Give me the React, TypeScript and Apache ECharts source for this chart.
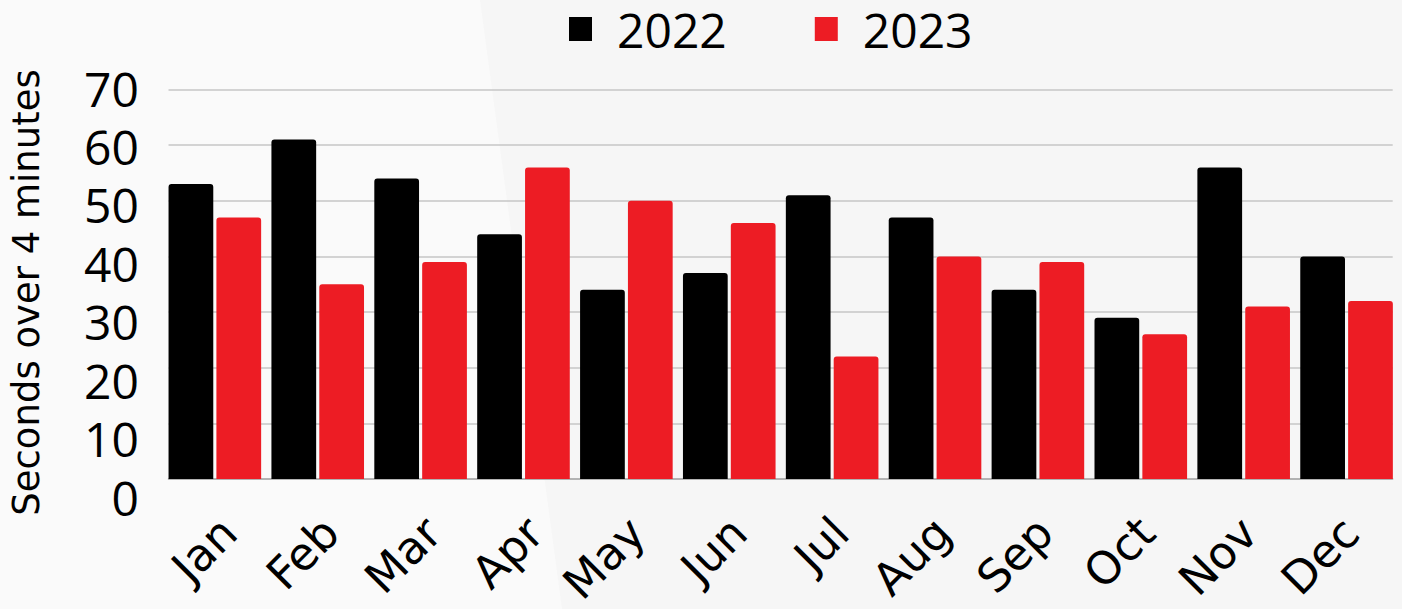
import React, { useEffect, useRef } from "react";
import * as echarts from "echarts";

const categories = ["Jan", "Feb", "Mar", "Apr", "May", "Jun", "Jul", "Aug", "Sep", "Oct", "Nov", "Dec"];
const series2022 = [53, 61, 54, 44, 34, 37, 51, 47, 34, 29, 56, 40];
const series2023 = [47, 35, 39, 56, 50, 46, 22, 40, 39, 26, 31, 32];
const seriesNames = ["2022", "2023"];
const yMin = 0;
const yMax = 70;
const yInterval = 10;
const yAxisTitle = "Seconds over 4 minutes";

const NUM_FONT = "'Open Sans', sans-serif";
const WORD_FONT = "'DejaVu Sans', sans-serif";

export default function App() {
  const ref = useRef<HTMLDivElement>(null);

  useEffect(() => {
    document.body.style.margin = "0";
    if (!ref.current) return;
    const chart = echarts.init(ref.current, undefined, { renderer: "svg" });
    const plotTop = 89.5;
    const plotH = 389.5;
    const option: any = {
      animation: false,
      backgroundColor: "#f6f6f6",
      graphic: [
        {
          type: "polygon",
          z: -10,
          silent: true,
          shape: { points: [[0, 0], [480, 0], [562, 609], [0, 609]] },
          style: { fill: "#fafafa" },
        },
      ],
      legend: {
        data: seriesNames,
        left: 569,
        top: 5,
        padding: 0,
        itemWidth: 23,
        itemHeight: 24,
        itemGap: 88,
        icon: "rect",
        textStyle: {
          fontFamily: NUM_FONT,
          fontSize: 48,
          lineHeight: 46,
          color: "#000",
          padding: [0, 0, 0, 20],
        },
      },
      grid: [
        { left: 163.4, width: 1234.6, top: plotTop, height: plotH },
        { left: 168.5, width: 1224.2, top: plotTop, height: plotH },
        { left: 168.5, width: 1224.2, top: 88, height: 409 },
        { left: 178, width: 1234.6, top: plotTop, height: plotH },
      ],
      xAxis: [
        {
          gridIndex: 0,
          type: "category",
          data: categories,
          axisLine: { show: false },
          axisTick: { show: false },
          axisLabel: { show: false },
        },
        {
          gridIndex: 1,
          type: "category",
          data: categories,
          axisLine: { show: true, lineStyle: { color: "#a8a8a8", width: 1.5 } },
          axisTick: { show: false },
          axisLabel: { show: false },
        },
        { gridIndex: 2, type: "category", data: categories, show: false },
        {
          gridIndex: 3,
          type: "category",
          data: categories,
          axisLine: { show: false },
          axisTick: { show: false },
          axisLabel: {
            rotate: 45,
            margin: 50,
            fontFamily: WORD_FONT,
            fontSize: 45,
            color: "#000",
            interval: 0,
          },
        },
      ],
      yAxis: [
        { gridIndex: 0, type: "value", min: yMin, max: yMax, interval: yInterval, show: false },
        {
          gridIndex: 1,
          type: "value",
          min: yMin,
          max: yMax,
          interval: yInterval,
          axisLine: { show: false },
          axisTick: { show: false },
          axisLabel: { show: false },
          splitLine: { show: true, lineStyle: { color: "#c6c6c6", width: 1.6 } },
        },
        {
          gridIndex: 2,
          type: "value",
          min: yMin,
          max: yMax,
          interval: yInterval,
          axisLine: { show: false },
          axisTick: { show: false },
          splitLine: { show: false },
          axisLabel: {
            margin: 40,
            fontFamily: NUM_FONT,
            fontSize: 48,
            lineHeight: 44,
            color: "#000",
          },
          name: yAxisTitle,
          nameLocation: "middle",
          nameRotate: 90,
          nameGap: 134,
          nameTextStyle: { fontFamily: WORD_FONT, fontSize: 37, color: "#000" },
        },
        { gridIndex: 3, type: "value", min: yMin, max: yMax, show: false },
      ],
      series: [
        {
          name: seriesNames[0],
          type: "bar",
          xAxisIndex: 0,
          yAxisIndex: 0,
          data: series2022,
          barGap: "7%",
          barCategoryGap: "10%",
          itemStyle: { color: "#000000", borderRadius: [3, 3, 0, 0] },
        },
        {
          name: seriesNames[1],
          type: "bar",
          xAxisIndex: 0,
          yAxisIndex: 0,
          data: series2023,
          barGap: "7%",
          barCategoryGap: "10%",
          itemStyle: { color: "#ed1c24", borderRadius: [3, 3, 0, 0] },
        },
      ],
    };
    chart.setOption(option);
    return () => chart.dispose();
  }, []);

  return <div ref={ref} style={{ width: 1402, height: 609 }} />;
}
